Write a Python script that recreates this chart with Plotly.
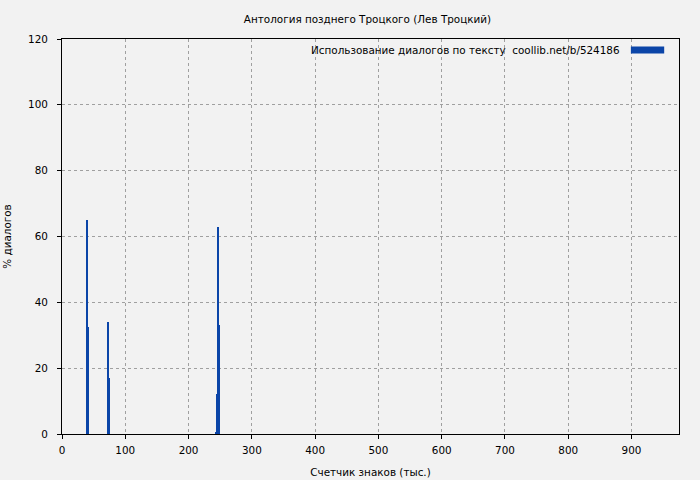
import plotly.graph_objects as go

# Data (x in thousands of characters, y in % dialogues)
segment_pos = [39.8, 41.3, 73.0, 74.5, 243.7, 245.3, 246.8, 248.4]
dialog_pct = [65.0, 32.6, 34.0, 17.1, 0.6, 12.2, 63.0, 33.1]

title_text = "Антология позднего Троцкого (Лев Троцкий)"
x_title = "Счетчик знаков (тыс.)"
y_title = "% диалогов"
legend_text = "Использование диалогов по тексту  coollib.net/b/524186"
x_ticks = [0, 100, 200, 300, 400, 500, 600, 700, 800, 900]
y_ticks = [0, 20, 40, 60, 80, 100, 120]

BAR_COLOR = "#0b45a8"
FONT = "DejaVu Sans"
FS = 10.4

fig = go.Figure()
fig.add_trace(go.Bar(
    x=segment_pos, y=dialog_pct, width=1.4,
    marker=dict(color=BAR_COLOR, line=dict(width=0)),
    showlegend=False,
))

fig.update_layout(
    width=700, height=480,
    margin=dict(l=62, r=21, t=39, b=46, pad=0),
    paper_bgcolor="#f2f2f2", plot_bgcolor="#f2f2f2",
    font=dict(family=FONT, size=FS, color="#000000"),
    title=dict(text=title_text, x=0.525, xanchor="center", y=0.96, yanchor="middle",
               font=dict(family=FONT, size=FS, color="#000000")),
    bargap=0,
    showlegend=False,
)

axis_common = dict(
    showline=True, linecolor="#000000", linewidth=1, mirror=True,
    showgrid=True, gridcolor="#a0a0a0", griddash="dot", gridwidth=1,
    ticks="outside", ticklen=4, tickcolor="#000000", tickwidth=1,
    zeroline=False, automargin=False,
    tickfont=dict(family=FONT, size=FS, color="#000000"),
)

fig.update_xaxes(range=[0, 975], tickvals=x_ticks, ticktext=[str(v) for v in x_ticks],
                 ticklabelstandoff=3,
                 title=dict(text=x_title, standoff=13, font=dict(family=FONT, size=FS)),
                 **axis_common)
fig.update_yaxes(range=[0, 120], tickvals=y_ticks, ticktext=[str(v) for v in y_ticks],
                 ticklabelstandoff=7,
                 title=dict(text=y_title, standoff=14, font=dict(family=FONT, size=FS)),
                 **axis_common)

# Legend drawn as text + swatch at top right
fig.add_annotation(text=legend_text, xref="paper", yref="paper", x=0.908, y=0.972,
                   xanchor="right", yanchor="middle", showarrow=False,
                   font=dict(family=FONT, size=FS, color="#000000"))
fig.add_shape(type="rect", xref="paper", yref="paper", x0=0.922, x1=0.976, y0=0.963, y1=0.981,
              fillcolor=BAR_COLOR, line=dict(width=0))

fig.write_html("out.html", config={"displayModeBar": False},
               post_script="document.body.style.margin='0';")
